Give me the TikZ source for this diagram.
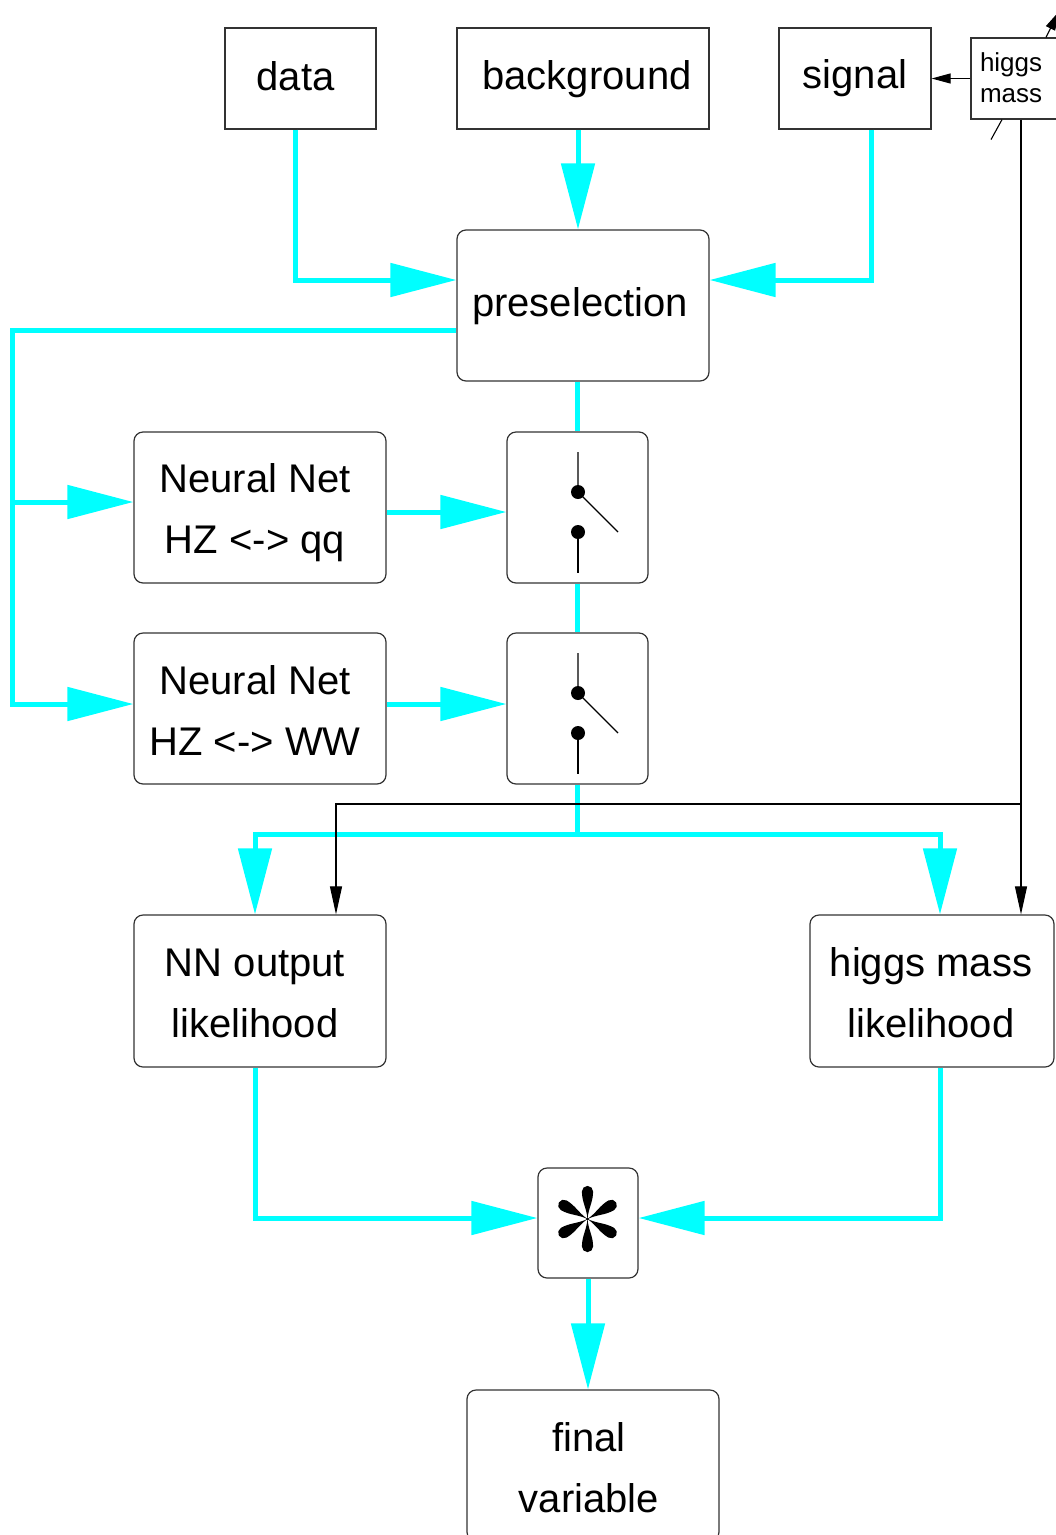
\documentclass[tikz,border=0pt]{standalone}
\usepackage{fontspec}
\setmainfont{Liberation Sans}
\usetikzlibrary{arrows.meta}
\definecolor{flow}{RGB}{0,255,255}
\begin{document}
\begin{tikzpicture}[x=1pt,y=-1pt,
  sqbox/.style={draw=black!80,line width=1.2pt,inner sep=0pt,minimum height=101pt},
  rbox/.style={sqbox,rounded corners=9pt},
  lbl/.style={align=center,inner sep=0pt,font=\fontsize{40pt}{61pt}\selectfont},
  cy/.style={draw=flow,line width=5pt,line join=miter},
  cya/.style={cy,-{Triangle[length=66pt,width=33pt]}},
  thinl/.style={draw=black,line width=1.1pt},
  thina/.style={thinl,-{Triangle[length=28pt,width=12pt]}},
  thinb/.style={thinl,-{Triangle[length=19pt,width=10pt]}},
]
\clip (0,0) rectangle (1056,1535);
\fill[white] (0,0) rectangle (1056,1535);

% nodes
\node[sqbox,minimum width=151pt,label={[lbl,xshift=-5pt,yshift=2pt]center:data}] (data) at (300.5,78.5) {};
\node[sqbox,minimum width=252pt,label={[lbl,xshift=4pt,yshift=-1pt]center:background}] (bg) at (583,78.5) {};
\node[sqbox,minimum width=152pt,label={[lbl]center:signal}] (sig) at (855,78.5) {};
\node[draw=black!80,line width=1.2pt,minimum width=110pt,minimum height=81pt,
      text width=92pt,inner xsep=9pt,inner ysep=0pt,align=left,
      font=\fontsize{26pt}{31pt}\selectfont] (hmass) at (1026,78.5) {\raisebox{2pt}{higgs}\\\raisebox{2pt}{mass}};
\node[rbox,minimum width=252pt,minimum height=151pt,label={[lbl,xshift=-3pt,yshift=-1pt]center:preselection}] (presel) at (583,305.5) {};
\node[rbox,minimum width=252pt,minimum height=151pt,label={[lbl,xshift=-5pt,yshift=-5pt]center:Neural Net\\HZ <-> qq}] (nn1) at (260,507.5) {};
\node[rbox,minimum width=252pt,minimum height=151pt,label={[lbl,xshift=-5pt,yshift=-2pt]center:Neural Net\\HZ <-> WW}] (nn2) at (260,708.5) {};
\node[rbox,minimum width=141pt,minimum height=151pt] (sw1) at (577.5,507.5) {};
\node[rbox,minimum width=141pt,minimum height=151pt] (sw2) at (577.5,708.5) {};
\node[rbox,minimum width=252pt,minimum height=152pt,label={[lbl,xshift=-5pt,yshift=-2pt]center:NN output\\likelihood}] (nnout) at (260,991) {};
\node[rbox,minimum width=244pt,minimum height=152pt,label={[lbl,xshift=-1pt,yshift=-2pt]center:higgs mass\\likelihood}] (hml) at (932,991) {};
\node[rbox,minimum width=100pt,minimum height=110pt] (ast) at (588,1223) {};
\node[rbox,minimum width=252pt,minimum height=151pt,label={[lbl,xshift=-4pt,yshift=-2pt]center:final\\variable}] (final) at (593,1465.5) {};

% switch symbols
\foreach \s in {sw1,sw2}{
  \begin{scope}[shift={(\s.center)}]
    \draw[thinl] (0.5,-55.5) -- (0.5,-15.5) -- (40.5,24.5);
    \draw[thinl] (0.5,24.5) -- (0.5,65);
    \fill (0.5,-15.5) circle[radius=7];
    \fill (0.5,24.5) circle[radius=7];
  \end{scope}
}

% asterisk
\begin{scope}[shift={(ast.center)},shift={(-0.5,-4)}]
  \foreach \a in {30,90,150,210,270,330}{
    \fill[rotate=\a] (0,0) .. controls (11,0.9) and (17,5.6) .. (27.5,5.6)
      arc[start angle=90,end angle=-90,radius=5.6]
      .. controls (17,-5.6) and (11,-0.9) .. (0,0) -- cycle;
  }
  \fill (0,0) circle[radius=1.6];
\end{scope}

% cyan flow
\draw[cya] ([xshift=-5.5pt]data.south) |- ([yshift=25.5pt]presel.west);
\draw[cya] ([xshift=-5pt]bg.south) -- ([xshift=-5pt]presel.north);
\draw[cya] ([xshift=16pt]sig.south) |- ([yshift=25.5pt]presel.east);
\coordinate (lbus) at (12,704);
\draw[cya] ([yshift=-24.5pt]presel.west) -| (lbus) -- ([yshift=4.5pt]nn2.west);
\draw[cya] (lbus |- 0,502) -- ([yshift=5.5pt]nn1.west);
\draw[cy] (presel.south -| sw1.north) -- (sw1.north);
\draw[cya] ([yshift=-4.5pt]nn1.east) -- ([yshift=-4.5pt]sw1.west);
\draw[cy] (sw1.south) -- (sw2.north);
\draw[cya] ([yshift=4.5pt]nn2.east) -- ([yshift=4.5pt]sw2.west);
\coordinate (bbus) at (577.5,834);
\draw[cy] (sw2.south) -- (bbus);
\draw[cya] (bbus) -| ([xshift=-5pt]nnout.north);
\draw[cya] (bbus) -| ([xshift=8pt]hml.north);
\draw[cya] ([xshift=-5pt]nnout.south) |- ([yshift=5pt]ast.west);
\draw[cya] ([xshift=8pt]hml.south) |- ([yshift=5pt]ast.east);
\draw[cya] (ast.south) -- (ast.south |- final.north);

% thin black lines
\draw[thinb] (hmass.west) -- (sig.east |- hmass.west);
\coordinate (vx) at (1021,804);
\draw[thina] (vx |- hmass.south) -- (vx |- hml.north);
\draw[thina] (vx) -| ([xshift=76pt]nnout.north);
\draw[thinb] ([xshift=20pt]hmass.north) -- ++(13,-26);
\draw[thinl] ([xshift=-24pt]hmass.south) -- ++(-11,20);
\end{tikzpicture}
\end{document}
